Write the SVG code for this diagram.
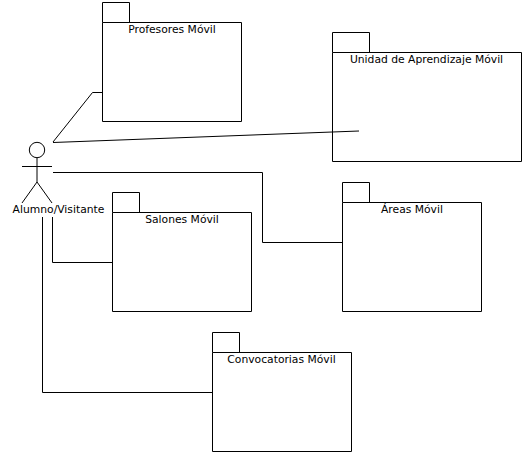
<svg xmlns="http://www.w3.org/2000/svg" width="526" height="456" viewBox="0 0 526 456">
<style>
.s{fill:none;stroke:#000;stroke-width:1}
text{font-family:"DejaVu Sans",sans-serif;font-size:10.75px;fill:#000;text-anchor:middle}
</style>
<rect width="526" height="456" fill="#fff"/>
<g id="connectors" class="s">
<path d="M53 142L92.500 92.500H102"/>
<path d="M53 142.500L359 131"/>
<path d="M53 172.500H262.500V242.500H342"/>
<path d="M52.500 217V262.500H112"/>
<path d="M42.500 217V392.500H212"/>
</g>
<g id="actor">
<g class="s"><circle cx="37" cy="150" r="7.700"/><path d="M37 158V182M22 166.500H52M22 203L37 182L52 203"/></g>
<text x="58.500" y="213">Alumno/Visitante</text>
</g>
<g id="profesores"><path class="s" d="M102.500 22.500V2.500H129.500V22.500M102.500 22.500H241.500V121.500H102.500Z"/><text x="172" y="33">Profesores Móvil</text></g>
<g id="unidad"><path class="s" d="M332.500 52.500V32.500H369.500V52.500M332.500 52.500H521.500V161.500H332.500Z"/><text x="426.500" y="63">Unidad de Aprendizaje Móvil</text></g>
<g id="areas"><path class="s" d="M342.500 202.500V182.500H369.500V202.500M342.500 202.500H481.500V311.500H342.500Z"/><text x="412" y="213">Áreas Móvil</text></g>
<g id="salones"><path class="s" d="M112.500 212.500V192.500H139.500V212.500M112.500 212.500H251.500V311.500H112.500Z"/><text x="182" y="223">Salones Móvil</text></g>
<g id="convocatorias"><path class="s" d="M212.500 352.500V332.500H239.500V352.500M212.500 352.500H351.500V451.500H212.500Z"/><text x="281.500" y="363">Convocatorias Móvil</text></g>
</svg>
